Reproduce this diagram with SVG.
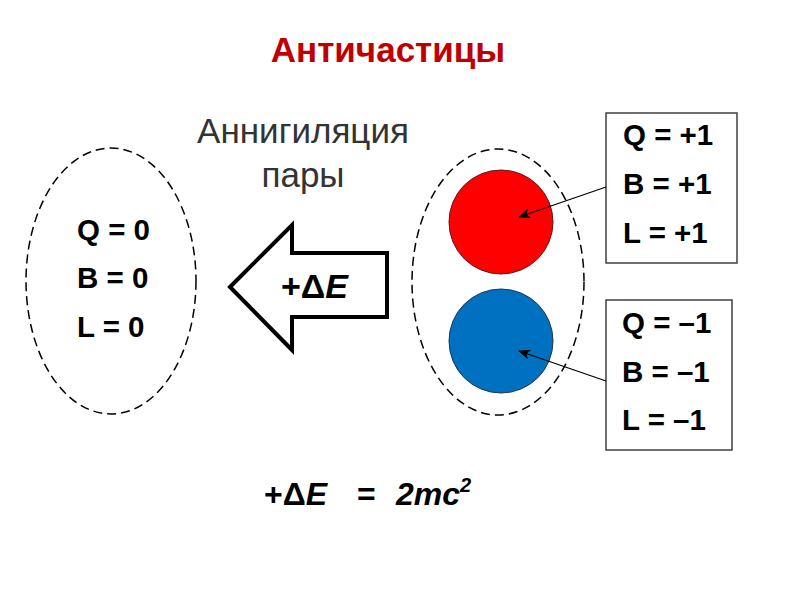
<svg xmlns="http://www.w3.org/2000/svg" width="800" height="600" viewBox="0 0 800 600">
<style>
.b{font-family:"Liberation Sans",Arial,sans-serif;font-weight:bold;fill:#000}
.v{font-size:29.5px}
.dash{fill:none;stroke:#000;stroke-width:1.5;stroke-dasharray:9 5}
.box{fill:#fff;stroke:#404040;stroke-width:1.5}
.conn{stroke:#000;stroke-width:1.3;fill:none}
.g{font-family:"Liberation Sans",Arial,sans-serif;font-size:35px;fill:#333}
</style>
<defs>
<marker id="ah" viewBox="0 0 12 10" refX="11" refY="5" markerWidth="12" markerHeight="10" markerUnits="userSpaceOnUse" orient="auto">
<path d="M0,0 L12,5 L0,10 L3,5 Z" fill="#000"/>
</marker>
</defs>
<rect width="800" height="600" fill="#fff"/>
<text x="388" y="62" text-anchor="middle" class="b" style="font-size:35px;fill:#C00000">Античастицы</text>
<g id="label-annihilation">
<text x="303" y="143" text-anchor="middle" class="g">Аннигиляция</text>
<text x="303" y="187" text-anchor="middle" class="g">пары</text>
</g>
<g id="result">
<ellipse cx="111" cy="281" rx="85" ry="133" class="dash"/>
<text class="b v" x="77" y="240">Q = 0</text>
<text class="b v" x="77" y="288">B = 0</text>
<text class="b v" x="77" y="337">L = 0</text>
</g>
<g id="energy-arrow">
<polygon points="230,287 292,225 292,253 387,253 387,317 292,317 292,350" fill="#fff" stroke="#000" stroke-width="4"/>
<text class="b" x="281" y="298" style="font-size:34px">+Δ<tspan font-style="italic">E</tspan></text>
</g>
<g id="pair">
<ellipse cx="498" cy="282" rx="86" ry="133" class="dash"/>
<circle id="particle" cx="501" cy="222" r="52" fill="#FF0000" stroke="#5a1a1a" stroke-width="1"/>
<circle id="antiparticle" cx="501" cy="341" r="52" fill="#0070C0" stroke="#1f3550" stroke-width="1"/>
</g>
<g id="box-particle">
<rect x="606" y="113" width="131" height="150" class="box"/>
<text class="b v" x="623" y="145">Q = +1</text>
<text class="b v" x="623" y="194">B = +1</text>
<text class="b v" x="623" y="243">L = +1</text>
</g>
<g id="box-antiparticle">
<rect x="606" y="300" width="126" height="150" class="box"/>
<text class="b v" x="622" y="333">Q = –1</text>
<text class="b v" x="622" y="382">B = –1</text>
<text class="b v" x="622" y="430">L = –1</text>
</g>
<g id="connectors">
<line x1="606" y1="187" x2="519" y2="217" class="conn" marker-end="url(#ah)"/>
<line x1="606" y1="381" x2="519" y2="351" class="conn" marker-end="url(#ah)"/>
</g>
<g id="equation">
<text class="b" y="505" style="font-size:32px"><tspan x="264">+Δ</tspan><tspan font-style="italic">E</tspan><tspan x="357">=</tspan><tspan x="396" font-style="italic">2mc</tspan><tspan font-style="italic" font-size="20" dy="-13">2</tspan></text>
</g>
</svg>
